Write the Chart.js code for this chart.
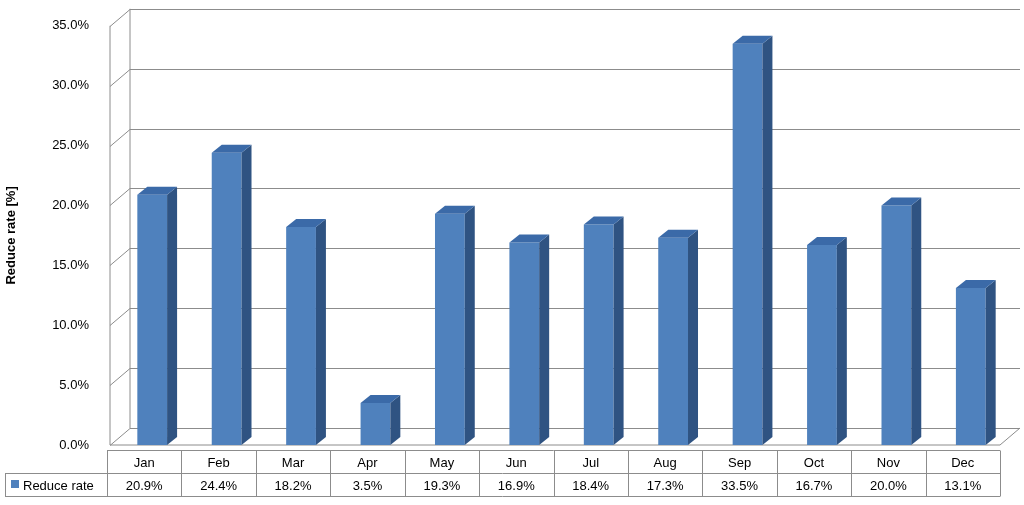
<!DOCTYPE html>
<html>
<head>
<script src="https://cdn.jsdelivr.net/npm/chart.js@4"></script>
<style>body{margin:0;background:#fff}#wrap{width:1024px;height:505px}</style>
</head>
<body>
<div id="wrap"><canvas id="myChart"></canvas></div>
<script>
const months = ["Jan","Feb","Mar","Apr","May","Jun","Jul","Aug","Sep","Oct","Nov","Dec"]
const reduceRate = [20.9,24.4,18.2,3.5,19.3,16.9,18.4,17.3,33.5,16.7,20.0,13.1]
const yTicks = [0,5,10,15,20,25,30,35]
const seriesName = "Reduce rate"

const DX = 20, DY = -17
const font = "13px 'Liberation Sans', Arial, sans-serif"

const wallsAndTable = {
  id: "wallsAndTable",
  beforeDatasetsDraw(chart) {
    const ctx = chart.ctx
    const y = chart.scales.y
    const left = 110, right = 1000
    ctx.save()
    ctx.strokeStyle = "#8c8c8c"
    ctx.lineWidth = 1
    yTicks.forEach(t => {
      const py = Math.round(y.getPixelForValue(t)) + 0.5
      ctx.beginPath()
      ctx.moveTo(left, py)
      ctx.lineTo(left + DX, py + DY)
      ctx.lineTo(right + DX, py + DY)
      ctx.stroke()
    })
    const top = y.getPixelForValue(35), bot = y.getPixelForValue(0)
    ctx.beginPath()
    ctx.moveTo(left + DX, top + DY); ctx.lineTo(left + DX, bot + DY)
    ctx.moveTo(left, top); ctx.lineTo(left, bot)
    ctx.moveTo(left, bot); ctx.lineTo(right, bot); ctx.lineTo(right + DX, bot + DY)
    ctx.stroke()
    ctx.restore()
  },
  afterDatasetsDraw(chart) {
    const ctx = chart.ctx
    const meta = chart.getDatasetMeta(0)
    ctx.save()
    meta.data.forEach(bar => {
      const l = bar.x - bar.width / 2, r = bar.x + bar.width / 2
      const t = bar.y, b = bar.base, d = 10, u = -8
      ctx.fillStyle = "#2f5382"
      ctx.beginPath()
      ctx.moveTo(r, t); ctx.lineTo(r + d, t + u); ctx.lineTo(r + d, b + u); ctx.lineTo(r, b)
      ctx.closePath(); ctx.fill()
      ctx.fillStyle = "#3b6aa8"
      ctx.beginPath()
      ctx.moveTo(l, t); ctx.lineTo(l + d, t + u); ctx.lineTo(r + d, t + u); ctx.lineTo(r, t)
      ctx.closePath(); ctx.fill()
    })
    // data table
    const x = chart.scales.x
    const r1 = 450.5, r2 = 473.5, r3 = 496.5
    ctx.strokeStyle = "#8c8c8c"
    ctx.lineWidth = 1
    ctx.font = font
    ctx.fillStyle = "#000"
    ctx.textAlign = "center"
    ctx.textBaseline = "middle"
    const colW = (1000 - 107) / months.length
    ctx.beginPath()
    ctx.moveTo(107, r1); ctx.lineTo(1000, r1)
    ctx.moveTo(5, r2); ctx.lineTo(1000, r2)
    ctx.moveTo(5, r3); ctx.lineTo(1000, r3)
    ctx.moveTo(5.5, r2); ctx.lineTo(5.5, r3)
    for (let i = 0; i <= months.length; i++) {
      const cx = Math.round(107 + i * colW) + 0.5
      ctx.moveTo(cx, r1); ctx.lineTo(cx, r3)
    }
    ctx.stroke()
    months.forEach((m, i) => {
      const cx = 107 + (i + 0.5) * colW
      ctx.fillText(m, cx, (r1 + r2) / 2 + 1)
      ctx.fillText(reduceRate[i].toFixed(1) + "%", cx, (r2 + r3) / 2 + 1)
    })
    ctx.fillStyle = "#4f81bd"
    ctx.fillRect(11, 480, 8, 8)
    ctx.fillStyle = "#000"
    ctx.textAlign = "left"
    ctx.fillText(seriesName, 23, (r2 + r3) / 2 + 1)
    ctx.restore()
  }
}

new Chart(document.getElementById("myChart"), {
  type: "bar",
  data: {
    labels: months,
    datasets: [{
      label: seriesName,
      data: reduceRate,
      backgroundColor: "#4f81bd",
      barPercentage: 0.4,
      categoryPercentage: 1
    }]
  },
  options: {
    responsive: true,
    maintainAspectRatio: false,
    animation: false,
    layout: { padding: { left: 0, right: 16, top: 10, bottom: 60 } },
    plugins: { legend: { display: false }, tooltip: { enabled: false } },
    scales: {
      x: { display: false },
      y: {
        min: 0, max: 35,
        afterFit: s => { s.width = 115 },
        afterBuildTicks: s => { s.ticks = yTicks.map(v => ({ value: v })) },
        grid: { display: false },
        border: { display: false },
        ticks: {
          color: "#000",
          padding: 18,
          font: { family: "'Liberation Sans', Arial, sans-serif", size: 13 },
          callback: v => v.toFixed(1) + "%"
        },
        title: {
          display: true, text: "Reduce rate [%]", color: "#000",
          font: { family: "'Liberation Sans', Arial, sans-serif", size: 13, weight: "bold" }
        }
      }
    }
  },
  plugins: [wallsAndTable]
})
</script>
</body>
</html>
